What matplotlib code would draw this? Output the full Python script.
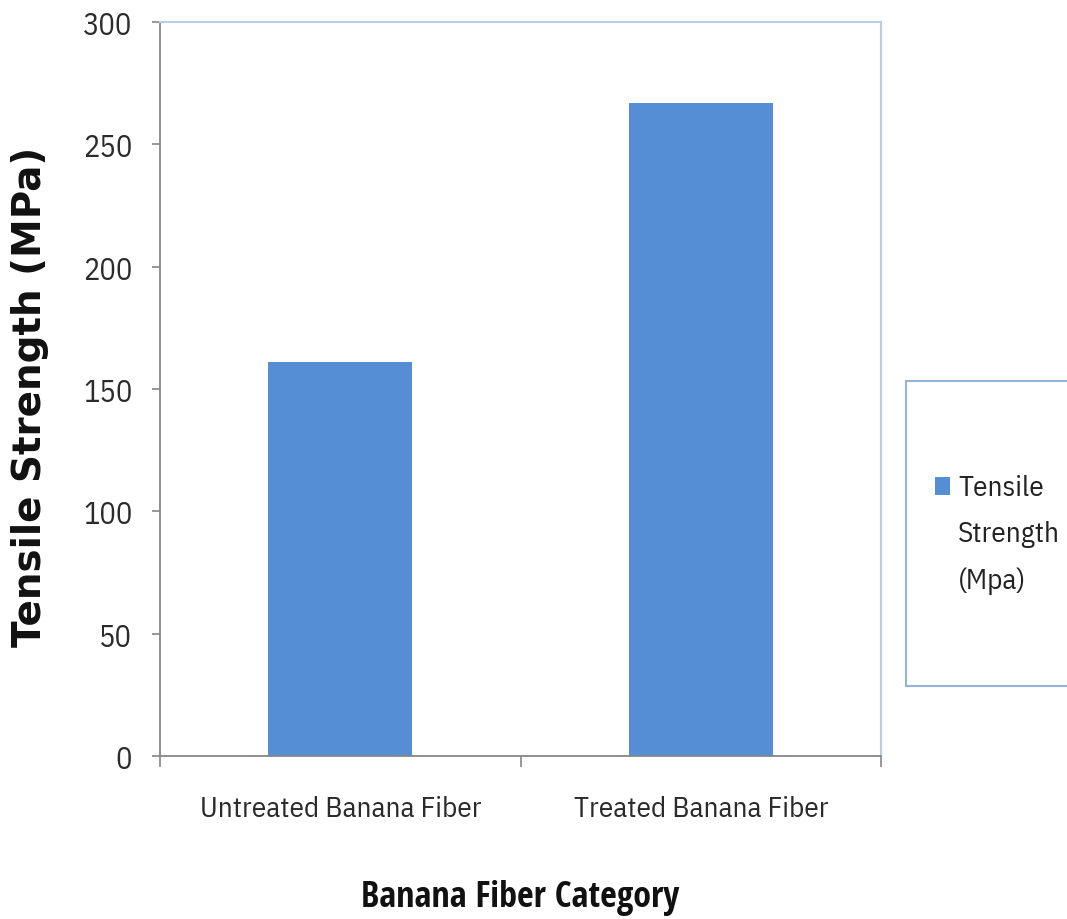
import matplotlib
matplotlib.use("Agg")
import matplotlib.pyplot as plt
from matplotlib.patches import Rectangle

categories = ["Untreated Banana Fiber", "Treated Banana Fiber"]
tensile_strength = [161, 267]
series_name = "Tensile\nStrength\n(Mpa)"
y_ticks = [0, 50, 100, 150, 200, 250, 300]

bar_color = "#558ED5"
narrow = ["IBM Plex Sans Condensed", "DejaVu Sans"]
narrow_bold = ["Open Sans Condensed", "DejaVu Sans"]
text_color = "#2b2b2b"

fig = plt.figure(figsize=(10.67, 9.2), dpi=100)
ax = fig.add_axes([0.15, 0.1772, 0.6757, 0.7978])

x = range(len(categories))
ax.bar(x, tensile_strength, width=0.4, color=bar_color, zorder=2)

ax.set_xlim(-0.5, len(categories) - 0.5)
ax.set_ylim(0, 300)
ax.set_yticks(y_ticks)
ax.set_yticklabels([str(v) for v in y_ticks], family=narrow, fontsize=22,
                   color=text_color)

# category labels sit between the boundary ticks
ax.set_xticks([i - 0.5 for i in range(len(categories) + 1)])
ax.set_xticklabels([""] * (len(categories) + 1))
ax.set_xticks(list(x), minor=True)
ax.set_xticklabels(categories, minor=True, family=narrow, fontsize=21,
                   color=text_color)
ax.tick_params(axis="x", which="minor", length=0, pad=28)
ax.tick_params(axis="x", which="major", length=8, width=1.2, color="#868686")
ax.tick_params(axis="y", length=6, width=1.2, color="#868686", pad=14)

for side in ("left", "bottom"):
    ax.spines[side].set_color("#868686")
    ax.spines[side].set_linewidth(1.3)
for side in ("top", "right"):
    ax.spines[side].set_color("#B9CDE5")
    ax.spines[side].set_linewidth(1.5)

ax.set_xlabel("Banana Fiber Category", family=narrow_bold, fontweight="bold",
              fontsize=26, color="#111111")
ax.xaxis.set_label_coords(0.5, -0.168)
ax.set_ylabel("Tensile Strength (MPa)", family="DejaVu Sans",
              fontweight="bold", fontsize=28, color="#111111", va="center")
ax.yaxis.set_label_coords(-0.18, 0.49)

# legend panel on the right edge
W, H = fig.get_size_inches() * fig.dpi
panel = Rectangle((906 / W, 1 - 687 / H), (1080 - 906) / W, (687 - 382) / H,
                  transform=fig.transFigure, facecolor="white",
                  edgecolor="#95B3D7", linewidth=1.5, clip_on=False)
fig.patches.append(panel)
marker = Rectangle((935 / W, 1 - 496 / H), 15 / W, 18 / H,
                   transform=fig.transFigure, facecolor=bar_color,
                   edgecolor="none")
fig.patches.append(marker)
fig.text(958 / W, 1 - 475 / H, series_name, family=narrow, fontsize=21,
         color="#222222", va="top", ha="left", linespacing=1.9)

fig.savefig("out.png", dpi=100)
